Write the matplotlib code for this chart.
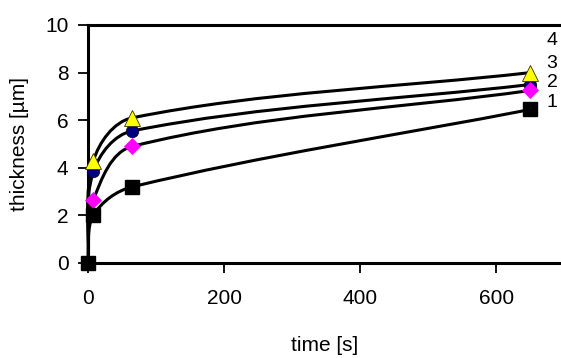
import matplotlib
matplotlib.use('Agg')
import numpy as np
import matplotlib.pyplot as plt
from matplotlib.path import Path
from matplotlib.patches import PathPatch

plt.rcParams['font.family'] = ['Liberation Sans', 'DejaVu Sans']

# sample times [s]
time = [0, 8, 65, 650]
# thickness [um] for curves 1..4
thick_1 = [0, 2.0, 3.2, 6.45]
thick_2 = [0, 2.65, 4.9, 7.25]
thick_3 = [0, 3.85, 5.55, 7.5]
thick_4 = [0, 4.3, 6.1, 8.0]
curve_labels = ['1', '2', '3', '4']
label_y = [6.75, 7.6, 8.4, 9.35]

XMAX = 695
SX, SY = 0.68, 23.8   # approx px per data unit, used only for the curve shape


def smooth_path(x, y, k=0.33):
    # smoothed line like a spreadsheet chart: cubic Bezier through the points,
    # tangents computed in screen-like proportions
    p = np.column_stack([np.asarray(x, float) * SX, np.asarray(y, float) * SY])
    n = len(p)
    tang = []
    for i in range(n):
        d = p[min(i + 1, n - 1)] - p[max(i - 1, 0)]
        tang.append(d / np.hypot(*d))
    verts = [p[0]]
    codes = [Path.MOVETO]
    for i in range(n - 1):
        L = np.hypot(*(p[i + 1] - p[i]))
        verts += [p[i] + tang[i] * L * k, p[i + 1] - tang[i + 1] * L * k, p[i + 1]]
        codes += [Path.CURVE4] * 3
    verts = np.array(verts) / [SX, SY]
    return Path(verts, codes)


fig = plt.figure(figsize=(5.61, 3.58), dpi=100)
ax = fig.add_axes([88 / 561, 1 - 263 / 358, 1 - 88 / 561, (263 - 25) / 358])

for ys in [thick_1, thick_2, thick_3, thick_4]:
    ax.add_patch(PathPatch(smooth_path(time, ys), fill=False, lw=2.2,
                           edgecolor='black', zorder=2, clip_on=False))

ax.plot(time[1:], thick_3[1:], 'o', color='#000080', mec='black', mew=0.5,
        ms=9, ls='none', zorder=3, clip_on=False)
ax.plot(time[1:], thick_2[1:], 'D', color='#ff00ff', mec='#ff00ff', mew=0.5,
        ms=8.5, ls='none', zorder=4, clip_on=False)
ax.plot(time[1:], thick_4[1:], '^', color='#ffff00', mec='#333300', mew=0.6,
        ms=11, ls='none', zorder=5, clip_on=False)
ax.plot(time, thick_1, 's', color='black', mec='black',
        ms=10.5, ls='none', zorder=6, clip_on=False)

for lab, ly in zip(curve_labels, label_y):
    ax.text(674, ly, lab, fontsize=14, va='center', ha='left')

ax.set_xlim(0, XMAX)
ax.set_ylim(0, 10)
ax.set_xticks([0, 200, 400, 600])
ax.set_yticks([0, 2, 4, 6, 8, 10])
ax.spines['right'].set_visible(False)
for s in ['left', 'top', 'bottom']:
    ax.spines[s].set_linewidth(2.2)
ax.tick_params(axis='both', direction='out', length=7, width=1.3,
               labelsize=15)
ax.tick_params(axis='x', pad=12)
ax.tick_params(axis='y', pad=7)
ax.set_xlabel('time [s]', fontsize=15, labelpad=20)
ax.set_ylabel('thickness [µm]', fontsize=15, labelpad=12)

fig.savefig('out.png', dpi=100)
